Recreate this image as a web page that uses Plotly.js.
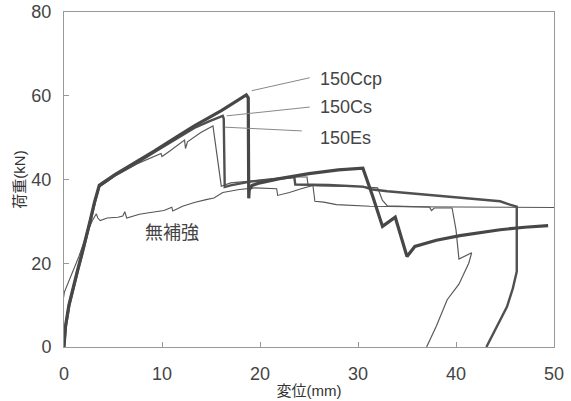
<!DOCTYPE html>
<html><head><meta charset="utf-8">
<script src="https://cdn.plot.ly/plotly-3.0.1.min.js"></script>
<style>html,body{margin:0;padding:0;background:#fff;}#chart{width:571px;height:401px;}</style>
</head><body><div id="chart"></div>
<script>
// Series names
const seriesNames = ["150Ccp", "150Cs", "150Es", "無補強"];
// 150Ccp
const ccpX = [0, 0.15, 0.5, 0.9, 1.4, 1.85, 2.3, 2.7, 3.1, 3.6, 5.2, 7.0, 9.2, 11.5, 13.3, 16.1, 18.6, 18.8, 18.85, 18.9, 19.2, 20, 22, 25, 28, 30.5, 31.5, 32.5, 33.8, 35.0, 35.8, 38, 40.4, 44.5, 47, 49.4];
const ccpY = [0, 5, 10, 14, 18.5, 22.5, 26.5, 30.5, 34.5, 38.6, 41.2, 43.7, 46.8, 50.2, 52.8, 56.5, 60.2, 59.5, 35.5, 37.5, 38.6, 39.2, 40.2, 41.4, 42.3, 42.7, 36.0, 28.8, 31.0, 21.6, 24.0, 25.5, 26.6, 28.0, 28.6, 29.0];
// 150Cs
const csX = [0, 0.2, 0.55, 0.95, 1.45, 1.9, 2.35, 2.75, 3.15, 3.6, 5.2, 7.2, 9.2, 11.3, 13.3, 14.8, 16.2, 16.3, 16.4, 17, 19, 21, 23.5, 23.6, 27, 30.5, 31.5, 33, 36, 40, 44.5, 45.5, 46.2, 46.2, 45.8, 45.2, 44.2, 43.1];
const csY = [0, 5, 10, 14, 18.5, 22.5, 26.5, 30.5, 34.5, 38.4, 41.0, 43.6, 46.5, 49.5, 52.3, 53.9, 55.2, 54.5, 38.2, 38.6, 39.5, 40.0, 40.6, 38.8, 38.7, 38.3, 37.6, 37.2, 36.6, 35.8, 34.8, 34.0, 33.5, 18, 14, 9.6, 5, 0];
// 150Es
const esX = [0, 0.1, 0.45, 0.85, 1.35, 1.8, 2.25, 2.65, 3.05, 3.6, 5.2, 7.5, 9.9, 10.0, 10.8, 12.3, 12.4, 12.6, 14.0, 15.2, 16.05, 17, 20, 23.7, 24.8, 24.9, 26, 30, 32, 32.5, 33, 36, 37.3, 37.5, 37.8, 39.6, 40.0, 40.3, 41.6, 41.3, 40.3, 39.1, 38.0, 37.0];
const esY = [0, 5, 10, 14, 18.5, 22.5, 26.5, 30.5, 34.5, 38.2, 40.8, 43.8, 46.2, 45.5, 46.8, 49.4, 47.4, 49.0, 51.3, 52.8, 38.4, 39.2, 39.8, 40.6, 40.6, 38.6, 38.5, 38.3, 38.0, 35.0, 33.7, 33.6, 33.4, 32.6, 33.2, 33.2, 28, 21, 22.5, 20, 15, 11.3, 5, 0];
// 無補強 (unreinforced)
const mhX = [-0.45, -0.25, 0.05, 0.56, 1.07, 1.5, 1.95, 2.4, 2.9, 3.3, 3.45, 3.7, 4.4, 5.5, 6.0, 6.2, 6.4, 7.0, 7.7, 8.5, 9.4, 10.2, 11.0, 11.1, 12.1, 13.3, 14.5, 15.3, 16.2, 17.9, 19.5, 21.7, 21.8, 23.0, 24.2, 25.4, 25.6, 26.5, 27.8, 31.2, 35, 40, 44, 47, 50];
const mhY = [1, 8.9, 13.2, 16.0, 18.9, 21.5, 24.5, 27.5, 30.2, 31.8, 30.8, 30.2, 30.8, 31.0, 31.3, 32.3, 30.8, 31.2, 31.7, 32.0, 32.4, 32.6, 33.4, 32.5, 33.6, 34.5, 35.2, 35.6, 36.9, 37.6, 38.0, 37.8, 36.2, 36.9, 37.8, 38.6, 34.8, 34.6, 34.0, 33.6, 33.5, 33.4, 33.3, 33.2, 33.3];
// Labels
const xTitle = "変位(mm)";
const yTitle = "荷重(kN)";

const FONT = "'Liberation Sans', Arial, 'Noto Sans CJK JP', sans-serif";
const traces = [
  {x: mhX, y: mhY, name: seriesNames[3], mode: "lines", line: {color: "#555", width: 1.1}},
  {x: esX, y: esY, name: seriesNames[2], mode: "lines", line: {color: "#5a5a5a", width: 1.2}},
  {x: csX, y: csY, name: seriesNames[1], mode: "lines", line: {color: "#505050", width: 2.4}},
  {x: ccpX, y: ccpY, name: seriesNames[0], mode: "lines", line: {color: "#474747", width: 3.2}}
];
const axisBase = {
  showgrid: false, zeroline: false, showline: true, mirror: true,
  linecolor: "#999", linewidth: 1, ticks: "inside", ticklen: 5, tickcolor: "#999",
  tickfont: {family: FONT, size: 18, color: "#444"}
};
const layout = {
  width: 571, height: 401,
  margin: {l: 64, r: 17, t: 12, b: 54},
  paper_bgcolor: "#fff", plot_bgcolor: "#fff",
  showlegend: false,
  font: {family: FONT, color: "#444"},
  xaxis: Object.assign({}, axisBase, {range: [0, 50], dtick: 10, tick0: 0, ticklabelstandoff: 10,
    title: {text: xTitle, font: {family: FONT, size: 15, color: "#333"}, standoff: 2}}),
  yaxis: Object.assign({}, axisBase, {range: [0, 80], dtick: 20, tick0: 0, ticklabelstandoff: 8,
    title: {text: yTitle, font: {family: FONT, size: 15, color: "#333"}, standoff: 2}}),
  shapes: [
    {type: "line", xref: "x", yref: "y", x0: 25.07, y0: 64.3, x1: 19.15, y1: 61.2, line: {color: "#888", width: 1}},
    {type: "line", xref: "x", yref: "y", x0: 25.07, y0: 57.3, x1: 16.6, y1: 55.2, line: {color: "#888", width: 1}},
    {type: "line", xref: "x", yref: "y", x0: 24.26, y0: 51.6, x1: 16.4, y1: 52.5, line: {color: "#888", width: 1}}
  ],
  annotations: [
    {xref: "x", yref: "y", x: 25.9, y: 64.1, xanchor: "left", yanchor: "middle", text: seriesNames[0], showarrow: false, font: {family: FONT, size: 18, color: "#444"}},
    {xref: "x", yref: "y", x: 25.9, y: 57.3, xanchor: "left", yanchor: "middle", text: seriesNames[1], showarrow: false, font: {family: FONT, size: 18, color: "#444"}},
    {xref: "x", yref: "y", x: 25.9, y: 50.0, xanchor: "left", yanchor: "middle", text: seriesNames[2], showarrow: false, font: {family: FONT, size: 18, color: "#444"}},
    {xref: "x", yref: "y", x: 11.0, y: 27.2, xanchor: "center", yanchor: "middle", text: seriesNames[3], showarrow: false, font: {family: FONT, size: 18, color: "#444"}}
  ]
};
Plotly.newPlot("chart", traces, layout, {displayModeBar: false, staticPlot: true});
</script></body></html>
